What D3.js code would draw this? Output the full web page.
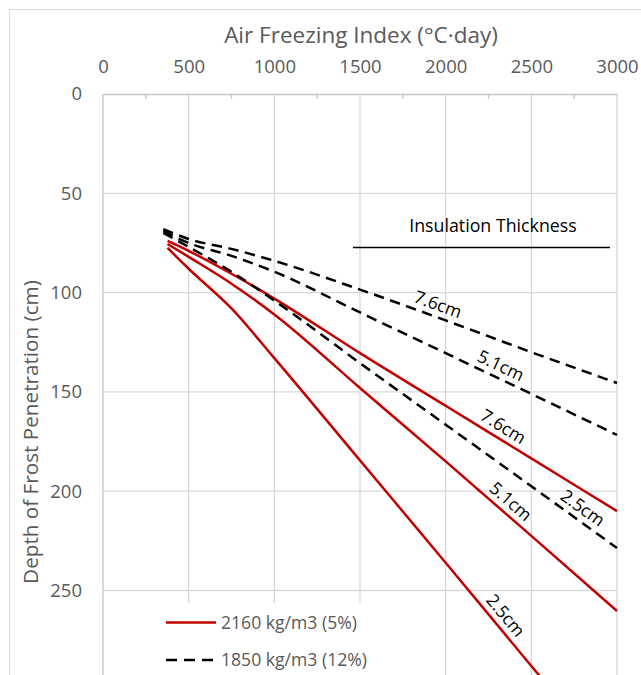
<!DOCTYPE html>
<html>
<head>
<meta charset="utf-8">
<script src="https://cdn.jsdelivr.net/npm/d3@7"></script>
<style>
  body { margin: 0; background: #fff; }
  text { font-family: "Open Sans", sans-serif; }
</style>
</head>
<body>
<div id="chart"></div>
<script>
// Air freezing index (°C·day) sample points for each density
var afiRed  = [377, 500, 750, 1000, 1500, 2000, 2500, 3000];
var afiDash = [352, 500, 750, 1000, 1500, 2000, 2500, 3000];

// depth of frost penetration (cm), 2160 kg/m3 (5%)
var red25 = [77.5, 88, 108, 133, 184.5, 236, 288, 339.5];
var red51 = [75.5, 82, 95.5, 111, 148, 185, 222.5, 260.3];
var red76 = [74, 79, 90.5, 103, 130.5, 157, 183.5, 210];

// depth of frost penetration (cm), 1850 kg/m3 (12%)
var dash25 = [70, 77, 89.5, 104, 135.5, 166.5, 197.5, 228.6];
var dash51 = [69, 75, 81.5, 89.5, 110, 130.5, 151, 171.7];
var dash76 = [68, 73, 78, 84, 98.5, 114, 130, 145.5];

var xTicks = [0, 500, 1000, 1500, 2000, 2500, 3000];
var xMinor = [250, 750, 1250, 1750, 2250, 2750];
var yTicks = [0, 50, 100, 150, 200, 250];

var legendLabels = ["2160 kg/m3 (5%)", "1850 kg/m3 (12%)"];

// where along each curve the thickness label sits
var thickLabels = [
  {text: "7.6cm", afi: afiDash, depth: dash76, at: 1930},
  {text: "5.1cm", afi: afiDash, depth: dash51, at: 2290},
  {text: "2.5cm", afi: afiDash, depth: dash25, at: 2757},
  {text: "7.6cm", afi: afiRed, depth: red76, at: 2298},
  {text: "5.1cm", afi: afiRed, depth: red51, at: 2332},
  {text: "2.5cm", afi: afiRed, depth: red25, at: 2294}
];

var width = 641,
    height = 675;

var svg = d3.select("#chart")
    .append("svg")
    .attr("width", width)
    .attr("height", height);

// chart border
svg.append("rect")
    .attr("x", 9.5).attr("y", 9.5)
    .attr("width", 640).attr("height", 700)
    .attr("fill", "none")
    .attr("stroke", "#d9d9d9");

var x = d3.scaleLinear().domain([0, 3000]).range([103, 617]);
var y = d3.scaleLinear().domain([0, 300]).range([94, 94 + 300 * 1.986]);

var grey = "#595959";

// gridlines
svg.append("g").selectAll("line")
    .data(xTicks.slice(1))
  .enter().append("line")
    .attr("x1", function(d) { return x(d); })
    .attr("x2", function(d) { return x(d); })
    .attr("y1", y(0)).attr("y2", y(300))
    .attr("stroke", "#d9d9d9").attr("stroke-width", 1.3);

svg.append("g").selectAll("line")
    .data(yTicks.slice(1))
  .enter().append("line")
    .attr("x1", x(0)).attr("x2", x(3000))
    .attr("y1", function(d) { return y(d); })
    .attr("y2", function(d) { return y(d); })
    .attr("stroke", "#d9d9d9").attr("stroke-width", 1.3);

// axes
var xAxis = svg.append("g")
    .attr("transform", "translate(0," + y(0) + ")")
    .call(d3.axisTop(x).tickValues(xTicks).tickFormat(d3.format("d")).tickSize(0).tickPadding(21));

var yAxis = svg.append("g")
    .attr("transform", "translate(" + x(0) + ",0)")
    .call(d3.axisLeft(y).tickValues(yTicks).tickFormat(d3.format("d")).tickSize(0).tickPadding(21));

yAxis.select(".domain").attr("d", "M0," + y(0) + "V" + y(300));

[xAxis, yAxis].forEach(function(a) {
  a.select(".domain").attr("stroke", "#c6c6c6").attr("stroke-width", 1.3);
  a.selectAll("text")
      .attr("fill", grey)
      .style("font-size", "18.5px")
      .style("font-family", "Open Sans");
});

svg.append("g").selectAll("line")
    .data(xMinor)
  .enter().append("line")
    .attr("x1", function(d) { return x(d); })
    .attr("x2", function(d) { return x(d); })
    .attr("y1", y(0)).attr("y2", y(0) + 5)
    .attr("stroke", "#c6c6c6").attr("stroke-width", 1.3);

// axis titles
svg.append("text")
    .attr("x", 361).attr("y", 43)
    .attr("text-anchor", "middle")
    .attr("fill", grey)
    .style("font-size", "22.5px")
    .text("Air Freezing Index (°C·day)");

svg.append("text")
    .attr("transform", "translate(31,432) rotate(-90)")
    .attr("text-anchor", "middle")
    .attr("dy", "0.35em")
    .attr("fill", grey)
    .style("font-size", "20.7px")
    .text("Depth of Frost Penetration (cm)");

// curves
var line = d3.line()
    .x(function(d) { return x(d[0]); })
    .y(function(d) { return y(d[1]); })
    .curve(d3.curveMonotoneX);

var series = [
  {afi: afiRed, depth: red25, dashed: false},
  {afi: afiRed, depth: red51, dashed: false},
  {afi: afiRed, depth: red76, dashed: false},
  {afi: afiDash, depth: dash25, dashed: true},
  {afi: afiDash, depth: dash51, dashed: true},
  {afi: afiDash, depth: dash76, dashed: true}
];

svg.append("g").selectAll("path")
    .data(series)
  .enter().append("path")
    .attr("d", function(s) { return line(d3.zip(s.afi, s.depth)); })
    .attr("fill", "none")
    .attr("stroke", function(s) { return s.dashed ? "#000" : "#c00000"; })
    .attr("stroke-width", 2.5)
    .attr("stroke-dasharray", function(s) { return s.dashed ? "10.5,6.5" : null; });

// labels along the curves
thickLabels.forEach(function(l) {
  var interp = d3.scaleLinear().domain(l.afi).range(l.depth);
  var px = x(l.at), py = y(interp(l.at));
  var dx = x(l.at + 100) - px, dy = y(interp(l.at + 100)) - py;
  var ang = Math.atan2(dy, dx);
  var off = 12.5;
  svg.append("text")
      .attr("transform", "translate(" + (px + Math.sin(ang) * off) + "," + (py - Math.cos(ang) * off) + ") rotate(" + (ang * 180 / Math.PI) + ")")
      .attr("text-anchor", "middle")
      .attr("dy", "0.35em")
      .attr("fill", "#000")
      .style("font-size", "17.5px")
      .text(l.text);
});

svg.append("text")
    .attr("x", 493).attr("y", 232)
    .attr("text-anchor", "middle")
    .attr("fill", "#000")
    .style("font-size", "17.8px")
    .text("Insulation Thickness");

svg.append("line")
    .attr("x1", 353).attr("x2", 610)
    .attr("y1", 247.5).attr("y2", 247.5)
    .attr("stroke", "#000").attr("stroke-width", 1.6);

// legend
var legend = svg.append("g");
legend.append("rect")
    .attr("x", 150).attr("y", 603)
    .attr("width", 225).attr("height", 80)
    .attr("fill", "#fff");

legend.selectAll("g")
    .data(legendLabels)
  .enter().append("g")
    .attr("transform", function(d, i) { return "translate(166," + (622.5 + i * 37.5) + ")"; })
    .each(function(d, i) {
      var g = d3.select(this);
      g.append("line")
          .attr("x1", 0).attr("x2", 50)
          .attr("stroke", i ? "#000" : "#c00000")
          .attr("stroke-width", 2.5)
          .attr("stroke-dasharray", i ? "11,7" : null);
      g.append("text")
          .attr("x", 55)
          .attr("dy", "0.35em")
          .attr("fill", grey)
          .style("font-size", "17.6px")
          .text(d);
    });
</script>
</body>
</html>
